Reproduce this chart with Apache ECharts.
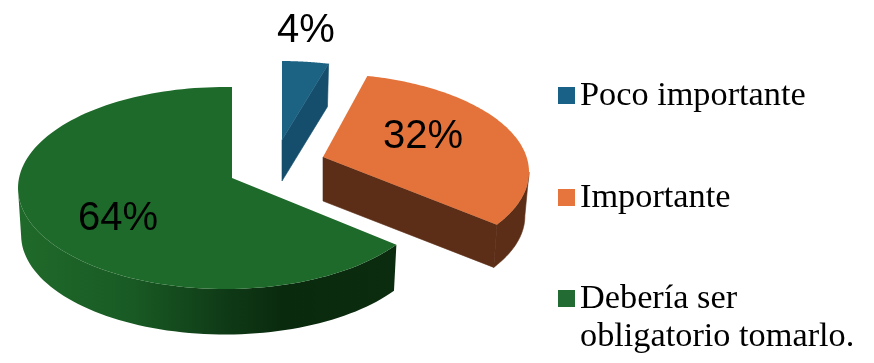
<!DOCTYPE html>
<html>
<head>
<meta charset="utf-8">
<style>html,body{margin:0;padding:0;background:#fff}#c{width:874px;height:363px}</style>
<script src="https://cdn.jsdelivr.net/npm/echarts@6/dist/echarts.min.js"></script>
</head>
<body>
<div id="c"></div>
<script>
const categories = ['Poco importante', 'Importante', 'Debería ser\nobligatorio tomarlo.'];
const values = [4, 32, 64];
const topColors = ['#1b6283', '#e3733a', '#1e6a2a'];
const cutColors = ['#154e6c', '#5c2e17', '#0c2c10'];
const legendColors = ['#1a6187', '#e6743d', '#226c34'];

/* Drawing set-up of each exploded slice: apex, rim ellipse, thickness, label offset */
const slices = [
  {ax:282, ay:140, cx:280, cy:159, rx:207, ry:98,  k:0.42, depth:41, s:0.98, lx:24,  ly:-109},
  {ax:323, ay:157, cx:322, cy:172, rx:207, ry:98.5,k:0.47, depth:44, s:0.98, lx:100, ly:-20},
  {ax:232, ay:178, cx:225, cy:188, rx:207, ry:101, k:0.49, depth:47, s:0.985, lx:-114,ly:41}
];
const legendTops = [76.5, 178.5, 241.5];
const total = values.reduce((a, b) => a + b, 0);

function rimPoint(ax, ay, cx, cy, rx, ry, k, theta) {
  const dx = Math.sin(theta), dy = -k * Math.cos(theta);
  const ox = (ax - cx) / rx, oy = (ay - cy) / ry, ux = dx / rx, uy = dy / ry;
  const A = ux * ux + uy * uy, B = 2 * (ox * ux + oy * uy), C = ox * ox + oy * oy - 1;
  const t = (-B + Math.sqrt(B * B - 4 * A * C)) / (2 * A);
  return [ax + t * dx, ay + t * dy];
}

function extremeIndex(points, sign) {
  let best = 0;
  points.forEach((p, j) => { if (sign * p[0] > sign * points[best][0]) best = j; });
  return best;
}

function sliceRenderer(i) {
  const before = values.slice(0, i).reduce((a, b) => a + b, 0);
  return function (params, api) {
    const v = api.value(0);
    const g = slices[i];
    const t0 = before / total * 2 * Math.PI, t1 = (before + v) / total * 2 * Math.PI;
    const top = [], bot = [];
    const n = 120;
    for (let j = 0; j <= n; j++) {
      const t = t0 + (t1 - t0) * j / n;
      top.push(rimPoint(g.ax, g.ay, g.cx, g.cy, g.rx, g.ry, g.k, t));
      bot.push(rimPoint(g.ax, g.ay + g.depth, g.cx, g.cy + g.depth, g.rx * g.s, g.ry * g.s, g.k, t));
    }
    const children = [];
    /* outer wall: only the front-facing arc of the rim, bounded by its silhouette */
    if (i === 2) {
      const jL = extremeIndex(top, -1);
      const pts = top.slice(0, jL + 1).concat(bot.slice(0, jL + 1).reverse());
      const fill = new echarts.graphic.LinearGradient(0, 0, 1, 0, [
        {offset: 0, color: '#1f6a2a'},
        {offset: 0.3, color: '#195a24'},
        {offset: 0.55, color: '#0f3a16'},
        {offset: 0.7, color: '#0a2a0e'},
        {offset: 1, color: '#0c2c10'}
      ]);
      children.push({type: 'polygon', shape: {points: pts}, style: {fill: fill}});
    } else if (i === 1) {
      const jR = extremeIndex(top, 1);
      const pts = top.slice(jR).concat(bot.slice(jR).reverse());
      children.push({type: 'polygon', shape: {points: pts}, style: {fill: cutColors[i], stroke: cutColors[i], lineWidth: 0.6}});
    }
    /* cut face at the clockwise end of the slice */
    if (i !== 2) {
      children.push({
        type: 'polygon',
        shape: {points: [[g.ax, g.ay], top[n], bot[n], [g.ax, g.ay + g.depth]]},
        style: {fill: cutColors[i], stroke: cutColors[i], lineWidth: 0.6}
      });
    }
    children.push({type: 'polygon', shape: {points: [[g.ax, g.ay]].concat(top)}, style: {fill: topColors[i]}});
    children.push({type: 'text', style: {
      x: g.ax + g.lx, y: g.ay + g.ly, text: v + '%',
      font: '40px "Liberation Sans"', fill: '#000', align: 'center', verticalAlign: 'middle'
    }});
    return {type: 'group', children: children};
  };
}

const chart = echarts.init(document.getElementById('c'), null, {renderer: 'canvas'});
chart.setOption({
  backgroundColor: '#fff',
  animation: false,
  legend: categories.map((name, i) => ({
    data: [name],
    left: 558,
    top: legendTops[i],
    padding: 0,
    orient: 'vertical',
    selectedMode: false,
    itemWidth: 17,
    itemHeight: 17,
    icon: 'rect',
    formatter: i === 2 ? (n => '\n' + n) : (n => n),
    textStyle: {
      fontFamily: 'Liberation Serif',
      fontSize: 34.3,
      color: '#000',
      lineHeight: 38
    }
  })),
  series: categories.map((name, i) => ({
    type: 'custom',
    name: name,
    coordinateSystem: 'none',
    silent: true,
    z: i === 2 ? 3 : 2,
    itemStyle: {color: legendColors[i]},
    data: [[values[i]]],
    renderItem: sliceRenderer(i)
  }))
});
</script>
</body>
</html>
